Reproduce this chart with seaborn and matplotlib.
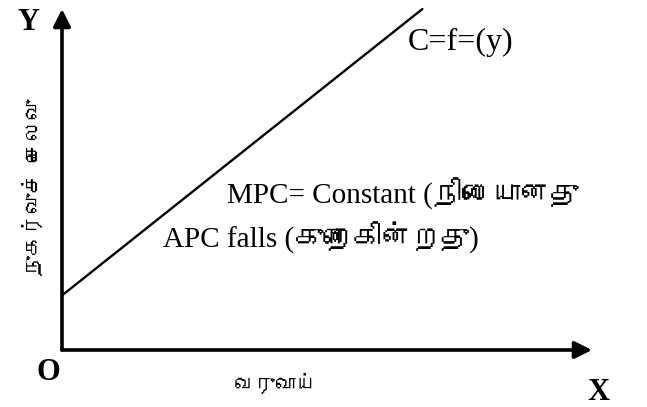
import matplotlib
matplotlib.use('Agg')
import matplotlib.pyplot as plt
import seaborn as sns
from matplotlib import font_manager
from fontTools.ttLib import TTFont

# Consumption function diagram: C = f(Y)
income = [0, 68]          # X axis (வருவாய்)
consumption = [16, 100]   # Y axis (நுகர்வுச் செலவு)

y_label = 'நுகர்வுச் செலவு'
x_label = 'வருவாய்'
curve_label = 'C=f=(y)'
mpc_label = 'MPC= Constant (நிலையானது'
apc_label = 'APC falls (குறைகின்றது)'


def find_tamil_font():
    # look for any installed font that has Tamil glyphs
    for f in font_manager.fontManager.ttflist:
        try:
            cmap = TTFont(f.fname, fontNumber=0, lazy=True).getBestCmap()
        except Exception:
            continue
        if cmap and 0x0BA8 in cmap:
            return f.name
    return None


sns.set_style('white')
tamil = find_tamil_font()
serif_fam = ['Liberation Serif'] + ([tamil] if tamil else []) + ['DejaVu Sans']
sans_fam = ([tamil] if tamil else []) + ['DejaVu Sans']
plt.rcParams['font.family'] = serif_fam
plt.rcParams['text.color'] = 'black'

W, H = 647, 407
fig = plt.figure(figsize=(W / 100, H / 100), dpi=100)
# origin at (62, 350) px, x arrow tip at 592 px, y arrow tip at 9 px
ax = fig.add_axes([62 / W, (H - 350) / H, 530 / W, 341 / H])
ax.set_xlim(0, 100)
ax.set_ylim(0, 100)
ax.axis('off')

# axes with arrow heads
arrow = dict(arrowstyle='-|>', lw=2.6, color='black', mutation_scale=26, shrinkA=0, shrinkB=0)
ax.annotate('', xy=(100, 0), xytext=(0, 0), arrowprops=arrow, annotation_clip=False)
ax.annotate('', xy=(0, 100), xytext=(0, 0), arrowprops=arrow, annotation_clip=False)

# consumption line
sns.lineplot(x=income, y=consumption, color='black', linewidth=1.7, ax=ax, clip_on=False)

# axis letters
fig.text(28 / W, 1 - 22 / H, 'Y', fontsize=22, fontweight='bold', ha='center', va='center')
fig.text(48 / W, 1 - 372 / H, 'O', fontsize=22, fontweight='bold', ha='center', va='center')
fig.text(598 / W, 1 - 392 / H, 'X', fontsize=22, fontweight='bold', ha='center', va='center')

# annotations
fig.text(408 / W, 1 - 42 / H, curve_label, fontsize=23, ha='left', va='center')
fig.text(227 / W, 1 - 194 / H, mpc_label, fontsize=21, ha='left', va='center')
fig.text(163 / W, 1 - 238 / H, apc_label, fontsize=21, ha='left', va='center')

# Tamil axis titles
fig.text(32 / W, 1 - 187 / H, y_label, fontsize=15, rotation=90, family=sans_fam,
         ha='center', va='center')
fig.text(275 / W, 1 - 383 / H, x_label, fontsize=15, family=sans_fam, ha='center', va='center')

fig.savefig('out.png', dpi=100)
